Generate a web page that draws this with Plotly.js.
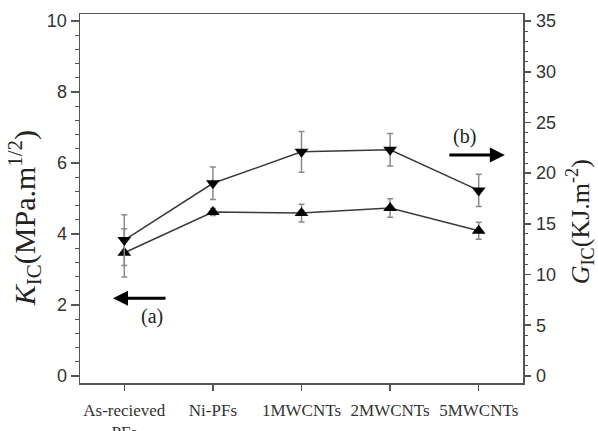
<!DOCTYPE html>
<html>
<head>
<meta charset="utf-8">
<script src="https://cdn.plot.ly/plotly-3.0.1.min.js"></script>
<style>html,body{margin:0;padding:0;background:#fff;}#chart{width:598px;height:431px;}</style>
</head>
<body>
<div id="chart"></div>
<script>
const categories = ["As-recieved<br>PFs", "Ni-PFs", "1MWCNTs", "2MWCNTs", "5MWCNTs"];
const kIC = [3.47, 4.62, 4.59, 4.73, 4.09];
const kICErr = [0.68, 0.1, 0.25, 0.26, 0.24];
const gIC = [13.4, 19.0, 22.1, 22.3, 18.3];
const gICErr = [2.5, 1.6, 2.0, 1.6, 1.6];
const leftTicks = [0, 2, 4, 6, 8, 10];
const rightTicks = [0, 5, 10, 15, 20, 25, 30, 35];

const serif = "Liberation Serif, Times New Roman, serif";
const sans = "Liberation Sans, Arial, sans-serif";

const traces = [
  {
    x: categories, y: gIC, yaxis: "y2", type: "scatter", mode: "lines+markers",
    line: {color: "#3a3a3a", width: 1.5},
    marker: {symbol: "triangle-down", size: 12, color: "#000"},
    error_y: {type: "data", array: gICErr, visible: true, color: "#8a8a8a", thickness: 1.5, width: 3},
    showlegend: false
  },
  {
    x: categories, y: kIC, yaxis: "y", type: "scatter", mode: "lines+markers",
    line: {color: "#3a3a3a", width: 1.5},
    marker: {symbol: "triangle-up", size: 12, color: "#000"},
    error_y: {type: "data", array: kICErr, visible: true, color: "#8a8a8a", thickness: 1.5, width: 3},
    showlegend: false
  }
];

const layout = {
  width: 598, height: 431,
  margin: {l: 80, r: 75, t: 14, b: 48},
  paper_bgcolor: "#fff", plot_bgcolor: "#fff",
  xaxis: {
    type: "category", range: [-0.5, 4.5],
    showline: true, linecolor: "#555", linewidth: 1.5, mirror: true,
    ticks: "outside", ticklen: 6, tickcolor: "#555", tickwidth: 1.5,
    showgrid: false, zeroline: false,
    tickfont: {family: serif, size: 17, color: "#333"},
    ticklabelstandoff: 5
  },
  yaxis: {
    range: [-0.2, 10.2], tickvals: leftTicks, ticktext: leftTicks.map(String),
    showline: true, linecolor: "#555", linewidth: 1.5,
    ticks: "outside", ticklen: 8, tickcolor: "#555", tickwidth: 1.5,
    minor: {dtick: 0.4, tick0: 0, ticklen: 4, tickcolor: "#555", tickwidth: 1, ticks: "outside"},
    showgrid: false, zeroline: false,
    tickfont: {family: sans, size: 18, color: "#333"},
    ticklabelstandoff: 0
  },
  yaxis2: {
    overlaying: "y", side: "right", anchor: "x",
    range: [-0.7, 35.7], tickvals: rightTicks, ticktext: rightTicks.map(String),
    showline: true, linecolor: "#555", linewidth: 1.5,
    ticks: "outside", ticklen: 6, tickcolor: "#555", tickwidth: 1.5,
    minor: {dtick: 1, tick0: 0, ticklen: 3, tickcolor: "#555", tickwidth: 1, ticks: "outside"},
    showgrid: false, zeroline: false,
    tickfont: {family: sans, size: 18, color: "#333"},
    ticklabelstandoff: 2
  },
  annotations: [
    {xref: "paper", yref: "paper", x: -0.126, y: 0.447, xanchor: "center", yanchor: "middle",
     textangle: -90, showarrow: false,
     text: "<i>K</i><sub>IC</sub>(MPa.m<sup>1/2</sup>)",
     font: {family: serif, size: 30, color: "#222"}},
    {xref: "paper", yref: "paper", x: 1.129, y: 0.436, xanchor: "center", yanchor: "middle",
     textangle: -90, showarrow: false,
     text: "<i>G</i><sub>IC</sub>(KJ.m<sup>-2</sup>)",
     font: {family: serif, size: 26, color: "#222"}},
    {xref: "paper", yref: "paper", x: 0.0745, y: 0.230, showarrow: true,
     axref: "pixel", ayref: "pixel", ax: 54, ay: 0,
     arrowhead: 2, arrowsize: 1, arrowwidth: 3, arrowcolor: "#000", text: ""},
    {xref: "paper", yref: "paper", x: 0.959, y: 0.618, showarrow: true,
     axref: "pixel", ayref: "pixel", ax: -57, ay: 0,
     arrowhead: 2, arrowsize: 1, arrowwidth: 3, arrowcolor: "#000", text: ""},
    {xref: "paper", yref: "paper", x: 0.1625, y: 0.179, xanchor: "center", yanchor: "middle",
     showarrow: false, text: "(a)", font: {family: serif, size: 20, color: "#222"}},
    {xref: "paper", yref: "paper", x: 0.869, y: 0.667, xanchor: "center", yanchor: "middle",
     showarrow: false, text: "(b)", font: {family: serif, size: 20, color: "#222"}}
  ]
};

Plotly.newPlot("chart", traces, layout, {staticPlot: true, displayModeBar: false});
</script>
</body>
</html>
